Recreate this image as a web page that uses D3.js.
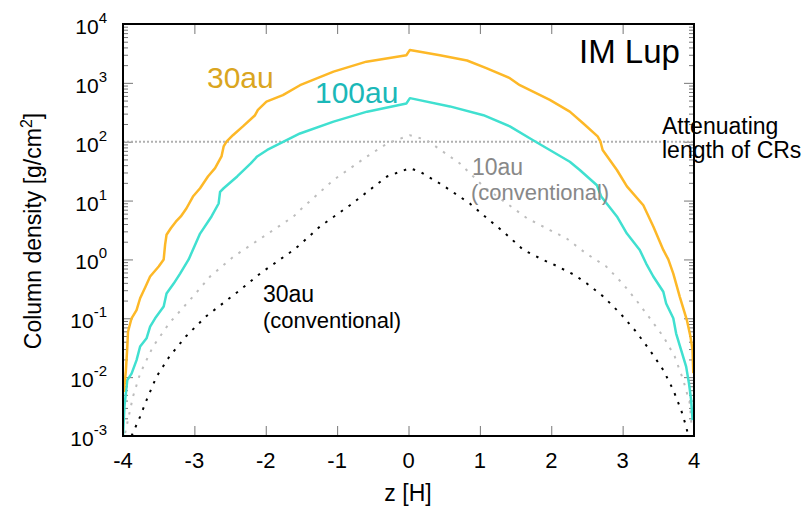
<!DOCTYPE html>
<html><head><meta charset="utf-8">
<script src="https://cdn.jsdelivr.net/npm/d3@7"></script>
<style>
html,body{margin:0;padding:0;background:#fff;}
svg text{font-family:"Liberation Sans",Arial,Helvetica,sans-serif;}
</style></head>
<body><svg id="c" width="807" height="508"></svg>
<script>
// ---- data (z [H], column density [g/cm^2]) ----
const z30 = [-3.99,-3.96,-3.94,-3.93,-3.88,-3.81,-3.76,-3.68,-3.62,-3.50,-3.43,-3.41,-3.39,-3.33,-3.26,-3.19,-3.11,-3.02,-2.92,-2.81,-2.71,-2.62,-2.59,-2.55,-2.46,-2.32,-2.15,-2.11,-1.99,-1.76,-1.52,-1.05,-0.59,-0.03,0.02,0.44,0.82,1.09,1.42,1.56,1.98,2.26,2.45,2.65,2.69,2.72,2.92,3.06,3.29,3.43,3.57,3.64,3.71,3.80,3.90,3.95,3.98,3.99];
const v30 = [5.6e-3,1.26e-2,3.2e-2,5.9e-2,0.1,0.138,0.219,0.355,0.513,0.76,1.0,1.78,2.63,3.39,4.37,5.37,7.41,11.7,16.2,25.7,35.5,56.2,83.2,100,129,182,282,347,479,617,912,1549,2291,2951,3631,2951,2399,1778,1202,912,513,324,204,123,100,72.4,33.1,17.4,8.32,3.63,1.45,1.0,0.575,0.234,0.0933,0.049,0.0288,0.0117];

const z100 = [-4.0,-3.98,-3.94,-3.88,-3.81,-3.76,-3.67,-3.62,-3.55,-3.43,-3.39,-3.29,-3.20,-3.08,-2.92,-2.76,-2.66,-2.64,-2.59,-2.40,-2.21,-2.12,-1.98,-1.75,-1.52,-1.05,-0.58,-0.03,0.02,0.58,1.05,1.42,1.74,2.26,2.40,2.64,2.70,2.92,3.06,3.24,3.33,3.43,3.57,3.61,3.71,3.75,3.82,3.89,3.93,3.96,3.98];
const v100 = [1.0e-3,3.16e-3,8.9e-3,1.15e-2,1.95e-2,3.31e-2,4.57e-2,7.24e-2,0.1,0.158,0.263,0.389,0.575,1.0,2.75,5.37,8.91,14.1,16.2,25.7,42.7,56.2,72.4,100,138,219,324,447,550,398,282,182,107,45.7,33.1,18.2,11.7,5.37,2.75,1.45,0.851,0.513,0.282,0.178,0.1,0.055,0.0288,0.0151,7.76e-3,4.07e-3,1.86e-3];

const z10c = [-3.97,-3.92,-3.86,-3.76,-3.58,-3.35,-3.02,-2.78,-2.45,-1.61,-1.52,-1.05,-0.58,-0.30,0.02,0.25,0.58,0.72,1.05,1.38,1.66,1.98,2.21,2.49,2.77,3.00,3.19,3.40,3.57,3.73,3.85,3.94,3.97];
const v10c = [1.12e-3,2.14e-3,4.68e-3,1.15e-2,3.31e-2,8.3e-2,0.234,0.513,1.12,5.37,6.92,22.4,56.2,93.3,129,107,56.2,42.7,17.4,8.91,5.01,3.16,2.29,1.26,0.759,0.389,0.204,0.0933,0.049,0.0224,8.91e-3,3.63e-3,1.35e-3];

const z30c = [-3.88,-3.76,-3.67,-3.53,-3.35,-3.12,-2.84,-2.36,-2.08,-1.61,-1.52,-1.24,-0.82,-0.30,0.02,0.16,0.44,0.58,0.86,1.10,1.33,1.61,1.89,2.04,2.32,2.50,2.73,2.97,3.19,3.38,3.57,3.71,3.82,3.89,3.92];
const v30c = [1.0e-3,2.14e-3,4.07e-3,1.02e-2,2.24e-2,0.049,0.107,0.302,0.575,1.45,1.78,3.63,8.32,25.7,35.5,30.9,19.5,15.1,8.91,5.01,2.95,1.45,0.977,0.813,0.55,0.389,0.234,0.12,0.0589,0.0288,0.0132,6.03e-3,2.75e-3,1.45e-3,1.0e-3];

const xTicks = [-4,-3,-2,-1,0,1,2,3,4];
const yExps = [-3,-2,-1,0,1,2,3,4];
const crLevel = 100;

// ---- layout ----
const svg = d3.select("#c");
const L=123, T=24, R=694, B=436;
const x = d3.scaleLinear().domain([-4,4]).range([L,R]);
const y = d3.scaleLog().domain([1e-3,1e4]).range([B,T]);

svg.append("defs").append("clipPath").attr("id","clip")
  .append("rect").attr("x",L).attr("y",T).attr("width",R-L).attr("height",B-T);

const tickCol = "#777";
const xt = xTicks.filter(d=>d>-4&&d<4);
svg.append("g").attr("transform",`translate(0,${B})`)
  .call(d3.axisBottom(x).tickValues(xt).tickSize(-10).tickFormat(""))
  .call(g=>{g.select(".domain").remove(); g.selectAll("line").attr("stroke",tickCol);});
svg.append("g").attr("transform",`translate(0,${T})`)
  .call(d3.axisTop(x).tickValues(xt).tickSize(-10).tickFormat(""))
  .call(g=>{g.select(".domain").remove(); g.selectAll("line").attr("stroke",tickCol);});

const majors = yExps.map(e=>Math.pow(10,e));
const minors = [];
yExps.slice(0,-1).forEach(e=>{for(let k=2;k<=9;k++) minors.push(k*Math.pow(10,e));});
[[L,d3.axisLeft],[R,d3.axisRight]].forEach(([px,ax])=>{
  svg.append("g").attr("transform",`translate(${px},0)`)
    .call(ax(y).tickValues(majors.filter(v=>v>1e-3&&v<1e4)).tickSize(-10).tickFormat(""))
    .call(g=>{g.select(".domain").remove(); g.selectAll("line").attr("stroke",tickCol);});
  svg.append("g").attr("transform",`translate(${px},0)`)
    .call(ax(y).tickValues(minors).tickSize(-5).tickFormat(""))
    .call(g=>{g.select(".domain").remove(); g.selectAll("line").attr("stroke",tickCol);});
});

svg.append("line").attr("x1",L).attr("x2",R).attr("y1",y(crLevel)).attr("y2",y(crLevel))
  .attr("stroke","#b0b0b0").attr("stroke-width",2).attr("stroke-dasharray","2,2");

const line = (zs,vs)=>d3.line().x((d,i)=>x(zs[i])).y((d,i)=>y(vs[i]))(vs);
const plot = svg.append("g").attr("clip-path","url(#clip)");
plot.append("path").attr("d",line(z10c,v10c)).attr("fill","none").attr("stroke","#bdbdbd")
  .attr("stroke-width",2).attr("stroke-dasharray","2.5,7");
plot.append("path").attr("d",line(z30c,v30c)).attr("fill","none").attr("stroke","#000")
  .attr("stroke-width",2).attr("stroke-dasharray","2.5,7");
plot.append("path").attr("d",line(z100,v100)).attr("fill","none").attr("stroke","#40E0D0")
  .attr("stroke-width",2.5).attr("stroke-linejoin","round");
plot.append("path").attr("d",line(z30,v30)).attr("fill","none").attr("stroke","#FDB827")
  .attr("stroke-width",2.5).attr("stroke-linejoin","round");

svg.append("rect").attr("x",L).attr("y",T).attr("width",R-L).attr("height",B-T)
  .attr("fill","none").attr("stroke","#000").attr("stroke-width",2);

xTicks.forEach(t=>{
  svg.append("text").attr("x",x(t)).attr("y",468).attr("text-anchor","middle")
    .attr("font-size",22).attr("fill","#000").text(t<0?"-"+Math.abs(t):String(t));
});
yExps.forEach(e=>{
  const yy = y(Math.pow(10,e));
  const tx = svg.append("text").attr("x",107).attr("y",yy+10).attr("text-anchor","end")
    .attr("font-size",21).attr("fill","#000");
  tx.append("tspan").text("10");
  tx.append("tspan").attr("dy",-11).attr("font-size",15).text(e<0?"-"+Math.abs(e):String(e));
});

const yt = svg.append("text").attr("transform","translate(41,231) rotate(-90)")
  .attr("text-anchor","middle").attr("font-size",23).attr("fill","#000");
yt.append("tspan").text("Column density [g/cm");
yt.append("tspan").attr("dy",-9).attr("font-size",16).text("2");
yt.append("tspan").attr("dy",9).text("]");
svg.append("text").attr("x",408).attr("y",501).attr("text-anchor","middle")
  .attr("font-size",23).attr("fill","#000").text("z [H]");

const ann = (t,xx,yy,fs,col)=>svg.append("text").attr("x",xx).attr("y",yy)
  .attr("font-size",fs).attr("fill",col).text(t);
ann("30au",207,88,30,"#DAA520");
ann("100au",315,103,30,"#1BB8B8");
ann("IM Lup",579,63,33,"#000");
ann("10au",472,175,23,"#888");
ann("(conventional)",471,200,22,"#888");
ann("30au",263,302,23,"#000");
ann("(conventional)",263,328,22,"#000");
ann("Attenuating",662,134,23,"#000");
ann("length of CRs",662,158,23,"#000");
</script></body></html>
